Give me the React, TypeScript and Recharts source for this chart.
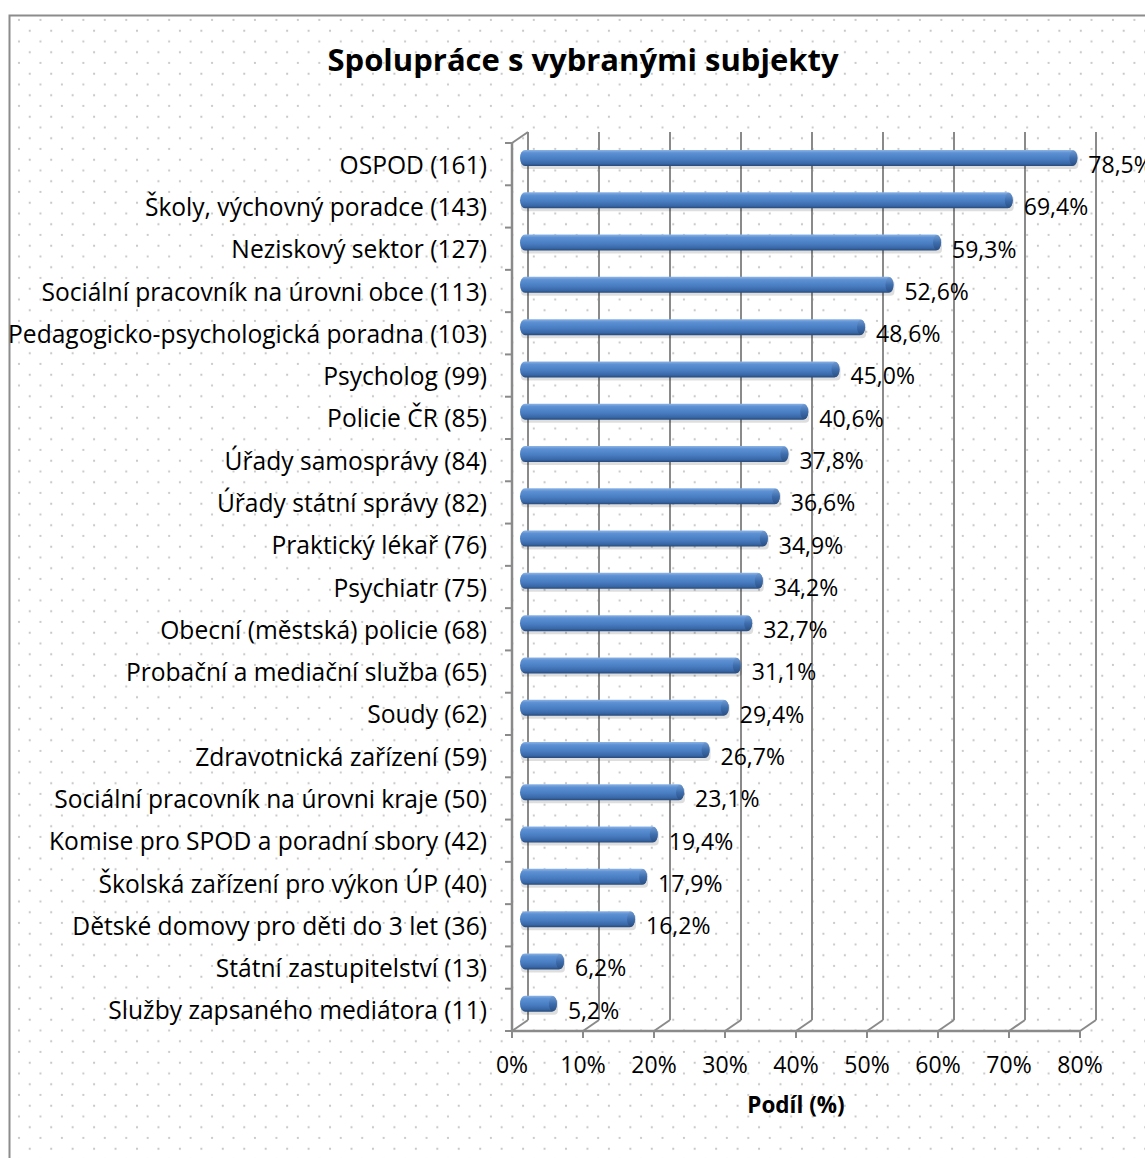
import React from 'react';
import { BarChart, Bar, XAxis, YAxis, CartesianGrid, LabelList, Label } from 'recharts';

const categories = [
  'OSPOD (161)',
  'Školy, výchovný poradce (143)',
  'Neziskový sektor (127)',
  'Sociální pracovník na úrovni obce (113)',
  'Pedagogicko-psychologická poradna (103)',
  'Psycholog (99)',
  'Policie ČR (85)',
  'Úřady samosprávy (84)',
  'Úřady státní správy (82)',
  'Praktický lékař (76)',
  'Psychiatr (75)',
  'Obecní (městská) policie (68)',
  'Probační a mediační služba (65)',
  'Soudy (62)',
  'Zdravotnická zařízení (59)',
  'Sociální pracovník na úrovni kraje (50)',
  'Komise pro SPOD a poradní sbory (42)',
  'Školská zařízení pro výkon ÚP (40)',
  'Dětské domovy pro děti do 3 let (36)',
  'Státní zastupitelství (13)',
  'Služby zapsaného mediátora (11)',
];

const shares = [78.5, 69.4, 59.3, 52.6, 48.6, 45.0, 40.6, 37.8, 36.6, 34.9, 34.2, 32.7, 31.1, 29.4, 26.7, 23.1, 19.4, 17.9, 16.2, 6.2, 5.2];

const xTicks = [0, 10, 20, 30, 40, 50, 60, 70, 80];

const chartTitle = 'Spolupráce s vybranými subjekty';
const xAxisTitle = 'Podíl (%)';

const data = categories.map((name, i) => ({ name, value: shares[i] }));

const W = 1145;
const H = 1158;
const PLOT_TOP = 143;
const PLOT_BOTTOM = 1031;
const PLOT_LEFT = 512;
const PLOT_RIGHT = 1080;
const XAXIS_H = 60;
const DX = 16;
const DY = -11;
const BAND = (PLOT_BOTTOM - PLOT_TOP) / categories.length;
const FONT = '"Open Sans", Lato, sans-serif';
const FS = 23;
const FS_CAT = 24.6;
const LINE = '#8a8a8a';

const fmtPct = (v: number) => v.toFixed(1).replace('.', ',') + '%';

const CatTick = (props: any) => {
  const { x, y, payload, index } = props;
  const top = y - BAND / 2;
  return (
    <g>
      <line x1={x - 7} y1={top} x2={x} y2={top} stroke={LINE} strokeWidth={2} />
      {index === categories.length - 1 && (
        <line x1={x - 7} y1={top + BAND} x2={x} y2={top + BAND} stroke={LINE} strokeWidth={2} />
      )}
      {index === 0 && (
        <line x1={x} y1={top} x2={x + DX} y2={top + DY} stroke={LINE} strokeWidth={2} />
      )}
      <text x={x - 25} y={y} textAnchor="end" dominantBaseline="central" fontFamily={FONT} fontSize={FS_CAT} fill="#000">
        {payload.value}
      </text>
    </g>
  );
};

const PctTick = (props: any) => {
  const { x, y, payload } = props;
  return (
    <g>
      <line x1={x} y1={y} x2={x} y2={y + 7} stroke={LINE} strokeWidth={2} />
      <line x1={x} y1={y} x2={x + DX} y2={y + DY} stroke={LINE} strokeWidth={2} />
      <text x={x} y={y + 33} textAnchor="middle" dominantBaseline="central" fontFamily={FONT} fontSize={FS} fill="#000">
        {payload.value + '%'}
      </text>
    </g>
  );
};

const Bar3D = (p: any) => {
  const { x, y, width, height } = p;
  if (!width || width <= 0) return null;
  const bx = x + 8;
  const by = y - 6;
  return (
    <g>
      <rect x={bx + 1} y={by + 3} width={width} height={height} rx={4} fill="rgba(0,0,0,0.13)" />
      <rect x={bx} y={by} width={width} height={height} rx={5} ry={height / 2} fill="url(#barBody)" />
      <ellipse cx={bx + width - 4} cy={by + height / 2} rx={4} ry={height / 2 - 0.5} fill="url(#barCap)" />
    </g>
  );
};

const ValueLabel = (p: any) => {
  const { x, y, width, height, value } = p;
  return (
    <text x={x + width + 8 + 11} y={y + height / 2} dominantBaseline="central" fontFamily={FONT} fontSize={FS} fill="#000">
      {fmtPct(value)}
    </text>
  );
};

const BackGrid = (props: any) => {
  const { x1, y1, x2, y2, index } = props;
  return (
    <line key={'vg' + index} x1={x1 + DX} y1={y1 + DY} x2={x2 + DX} y2={y2 + DY} stroke={LINE} strokeWidth={2} />
  );
};

export default function App() {
  return (
    <div style={{ position: 'absolute', left: 0, top: 0, width: W, height: H }}>
      <svg width={W} height={H} style={{ position: 'absolute', left: 0, top: 0 }}>
        <defs>
          <pattern id="dots" patternUnits="userSpaceOnUse" x={8.3} y={9.3} width={21.45} height={21.5}>
            <circle cx={10.7} cy={10.7} r={1.1} fill="#c6c6c6" />
            <circle cx={0} cy={0} r={1.1} fill="#c6c6c6" />
            <circle cx={21.45} cy={0} r={1.1} fill="#c6c6c6" />
            <circle cx={0} cy={21.5} r={1.1} fill="#c6c6c6" />
            <circle cx={21.45} cy={21.5} r={1.1} fill="#c6c6c6" />
          </pattern>
          <linearGradient id="barBody" x1="0" y1="0" x2="0" y2="1">
            <stop offset="0%" stopColor="#8db4e6" />
            <stop offset="18%" stopColor="#5d91d4" />
            <stop offset="55%" stopColor="#4a7ec3" />
            <stop offset="85%" stopColor="#3867a6" />
            <stop offset="100%" stopColor="#27497a" />
          </linearGradient>
          <linearGradient id="barCap" x1="0" y1="0" x2="0" y2="1">
            <stop offset="0%" stopColor="#6f9ad2" />
            <stop offset="50%" stopColor="#3e6eae" />
            <stop offset="100%" stopColor="#2a4f84" />
          </linearGradient>
        </defs>
        <rect x={0} y={0} width={W} height={H} fill="#ffffff" />
        <rect x={9.5} y={15.5} width={W + 20} height={H + 20} fill="url(#dots)" stroke="#8c8c8c" strokeWidth={2} />
        <text x={583} y={71} textAnchor="middle" fontFamily={FONT} fontWeight="bold" fontSize={31} fill="#000">
          {chartTitle}
        </text>
      </svg>
      <div style={{ position: 'absolute', left: 0, top: 0 }}>
        <BarChart
          width={W}
          height={H}
          data={data}
          layout="vertical"
          margin={{ top: PLOT_TOP, right: W - PLOT_RIGHT, bottom: H - PLOT_BOTTOM - XAXIS_H, left: 0 }}
          barSize={16}
        >
          <CartesianGrid horizontal={false} vertical={BackGrid} fill="none" />
          <XAxis
            type="number"
            domain={[0, 80]}
            ticks={xTicks}
            interval={0}
            height={XAXIS_H}
            tickSize={0}
            tickMargin={0}
            tick={<PctTick />}
            axisLine={{ stroke: LINE, strokeWidth: 2.5 }}
            tickLine={false}
          >
            <Label
              content={(lp: any) => {
                const vb = lp.viewBox || {};
                return (
                  <text x={PLOT_LEFT + (PLOT_RIGHT - PLOT_LEFT) / 2} y={(vb.y ?? PLOT_BOTTOM) + 82} textAnchor="middle" fontFamily={FONT} fontWeight="bold" fontSize={22.5} fill="#000">
                    {xAxisTitle}
                  </text>
                );
              }}
            />
          </XAxis>
          <YAxis
            type="category"
            dataKey="name"
            width={PLOT_LEFT}
            interval={0}
            tickSize={0}
            tickMargin={0}
            tick={<CatTick />}
            axisLine={{ stroke: LINE, strokeWidth: 2.5 }}
            tickLine={false}
          />
          <Bar dataKey="value" isAnimationActive={false} shape={<Bar3D />}>
            <LabelList dataKey="value" content={<ValueLabel />} />
          </Bar>
        </BarChart>
      </div>
    </div>
  );
}
